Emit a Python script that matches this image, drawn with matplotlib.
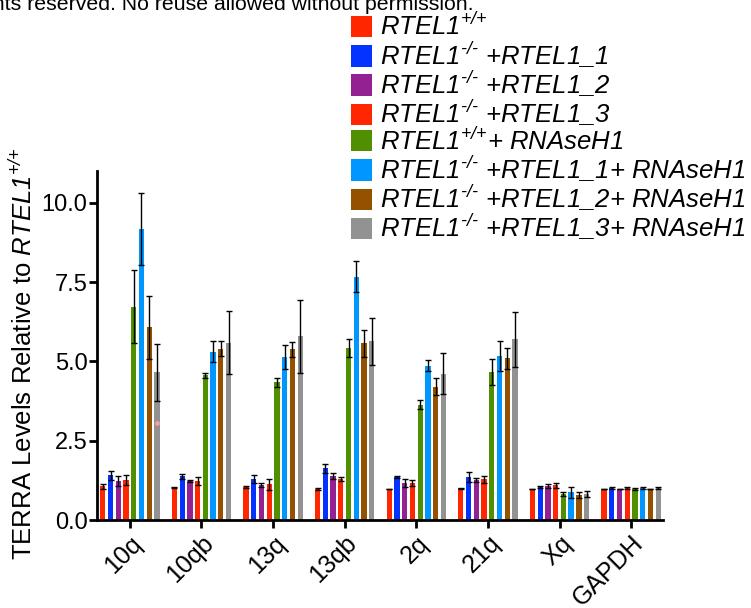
import numpy as np
import matplotlib.pyplot as plt

plt.rcParams['font.family'] = ['Liberation Sans', 'DejaVu Sans']
plt.rcParams['mathtext.fontset'] = 'custom'
plt.rcParams['mathtext.rm'] = 'Liberation Sans:italic'
plt.rcParams['mathtext.it'] = 'Liberation Sans:italic'

# Targets on the x axis.
targets = ['10q', '10qb', '13q', '13qb', '2q', '21q', 'Xq', 'GAPDH']

# Mean values per condition (one value per target).
wt = [1.07, 1.02, 1.04, 0.97, 0.97, 1.00, 0.98, 0.97]
ko_r1 = [1.41, 1.38, 1.29, 1.63, 1.35, 1.35, 1.04, 1.00]
ko_r2 = [1.23, 1.23, 1.10, 1.38, 1.16, 1.26, 1.07, 0.97]
ko_r3 = [1.26, 1.23, 1.13, 1.29, 1.16, 1.28, 1.09, 1.00]
wt_h1 = [6.73, 4.56, 4.34, 5.41, 3.64, 4.67, 0.81, 0.98]
ko_r1_h1 = [9.18, 5.31, 5.13, 7.67, 4.86, 5.17, 0.87, 1.00]
ko_r2_h1 = [6.07, 5.40, 5.38, 5.57, 4.20, 5.10, 0.78, 0.97]
ko_r3_h1 = [4.65, 5.59, 5.79, 5.63, 4.61, 5.70, 0.81, 1.00]

# Error bars (SD).
wt_err = [0.08, 0.02, 0.02, 0.03, 0.00, 0.02, 0.00, 0.00]
ko_r1_err = [0.15, 0.08, 0.12, 0.15, 0.04, 0.15, 0.03, 0.03]
ko_r2_err = [0.17, 0.02, 0.06, 0.10, 0.12, 0.06, 0.07, 0.00]
ko_r3_err = [0.15, 0.14, 0.17, 0.06, 0.09, 0.11, 0.07, 0.03]
wt_h1_err = [1.15, 0.08, 0.15, 0.28, 0.13, 0.40, 0.06, 0.02]
ko_r1_h1_err = [1.14, 0.33, 0.38, 0.48, 0.17, 0.46, 0.18, 0.03]
ko_r2_h1_err = [0.98, 0.24, 0.24, 0.42, 0.27, 0.33, 0.10, 0.00]
ko_r3_h1_err = [0.89, 1.00, 1.16, 0.75, 0.64, 0.87, 0.09, 0.03]

# Stray point on the 10q gray bar.
extra_point = 3.05

series = [wt, ko_r1, ko_r2, ko_r3, wt_h1, ko_r1_h1, ko_r2_h1, ko_r3_h1]
errors = [wt_err, ko_r1_err, ko_r2_err, ko_r3_err,
          wt_h1_err, ko_r1_h1_err, ko_r2_h1_err, ko_r3_h1_err]
colors = ['#FF2600', '#0433FF', '#942192', '#FF2600',
          '#4F8F00', '#0096FF', '#945200', '#929292']
wt_tag = r'$RTEL1^{\text{+/+}}$'
ko_tag = r'$RTEL1^{\text{-/-}}$'
labels = [
    wt_tag,
    ko_tag + ' +RTEL1_1',
    ko_tag + ' +RTEL1_2',
    ko_tag + ' +RTEL1_3',
    wt_tag + '+ RNAseH1',
    ko_tag + ' +RTEL1_1+ RNAseH1',
    ko_tag + ' +RTEL1_2+ RNAseH1',
    ko_tag + ' +RTEL1_3+ RNAseH1',
]

fig = plt.figure(figsize=(7.51, 6.08), dpi=100)
ax = fig.add_axes([0.129, 0.1447, 0.754, 0.574])

x = np.arange(len(targets))
step = 0.108
width = 0.074
for i, (vals, errs, c, lab) in enumerate(zip(series, errors, colors, labels)):
    pos = x + (i - 3.5) * step
    ax.bar(pos, vals, width, color=c, label=lab, zorder=2)
    ax.errorbar(pos, vals, yerr=errs, fmt='none', ecolor='black',
                elinewidth=1, capsize=2, capthick=1, zorder=3)

ax.scatter([x[0] + 3.5 * step], [extra_point], s=12, color='#F4A0A0',
           zorder=4, linewidths=0)

ax.set_xlim(-0.461, 7.447)
ax.set_ylim(0, 11)
ax.set_yticks([0, 2.5, 5, 7.5, 10])
ax.set_yticklabels(['0.0', '2.5', '5.0', '7.5', '10.0'])
ax.set_xticks(x)
ax.set_xticklabels(targets, rotation=45, ha='right', rotation_mode='anchor')

for side in ['top', 'right']:
    ax.spines[side].set_visible(False)
for side in ['left', 'bottom']:
    ax.spines[side].set_linewidth(2)
ax.tick_params(width=2, length=6, direction='out')
ax.tick_params(axis='y', labelsize=17, pad=0.8)
ax.tick_params(axis='x', labelsize=18, pad=2)

ax.set_ylabel(r'TERRA Levels Relative to $RTEL1^{\text{+/+}}$',
              fontsize=18.5)
ax.yaxis.set_label_coords(-0.105, 0.476)

fig.legend(loc='upper left', bbox_to_anchor=(0.468, 0.978), frameon=False,
           prop={'size': 18.5, 'style': 'italic'}, handlelength=0.8,
           handleheight=0.9, handletextpad=0.3, labelspacing=-0.03,
           borderpad=0, borderaxespad=0)

fig.text(473 / 751, 1 - 4 / 608,
         'All rights reserved. No reuse allowed without permission.',
         ha='right', va='center', fontsize=15.3)

fig.savefig('out.png', dpi=100)
